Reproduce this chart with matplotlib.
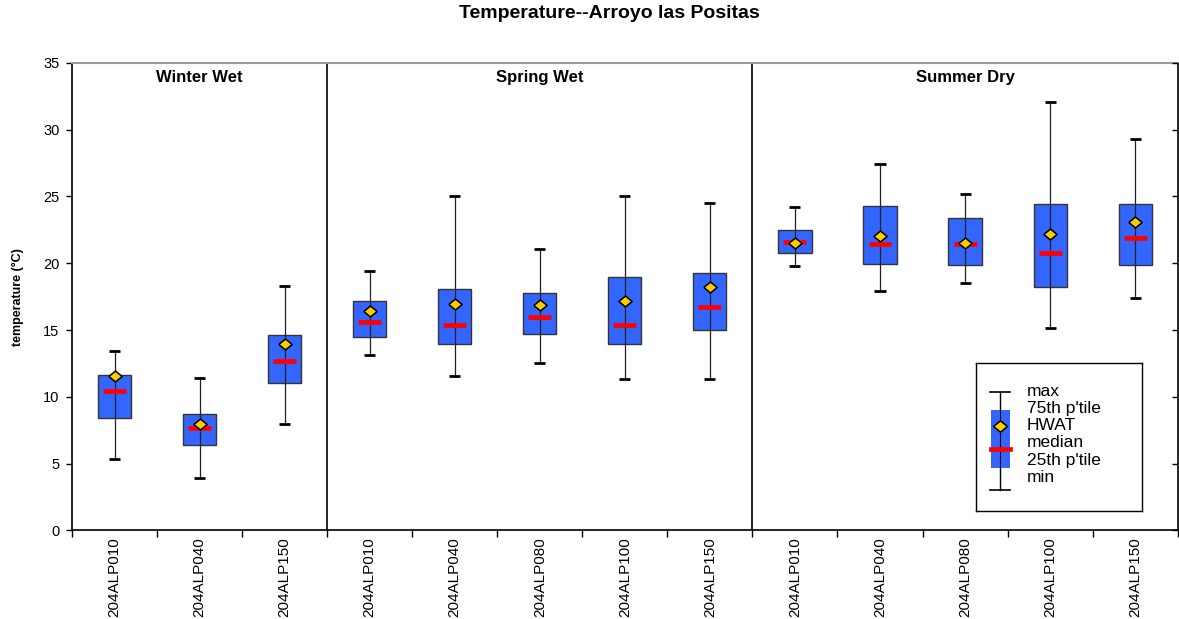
import matplotlib
matplotlib.use("Agg")
import matplotlib.pyplot as plt
import numpy as np

# Sampling sites, grouped by season
sites = ["204ALP010", "204ALP040", "204ALP150",
         "204ALP010", "204ALP040", "204ALP080", "204ALP100", "204ALP150",
         "204ALP010", "204ALP040", "204ALP080", "204ALP100", "204ALP150"]
seasons = ["Winter Wet", "Spring Wet", "Summer Dry"]
season_sizes = [3, 5, 5]

# Temperature statistics (°C) per site
t_max = [13.4, 11.4, 18.3, 19.4, 25.0, 21.1, 25.0, 24.5, 24.2, 27.4, 25.2, 32.1, 29.3]
t_q3 = [11.6, 8.7, 14.6, 17.2, 18.1, 17.75, 19.0, 19.25, 22.45, 24.25, 23.35, 24.4, 24.4]
t_hwat = [11.55, 8.0, 13.95, 16.4, 16.95, 16.9, 17.15, 18.25, 21.5, 22.0, 21.5, 22.2, 23.1]
t_median = [10.4, 7.65, 12.65, 15.6, 15.35, 15.95, 15.4, 16.7, 21.55, 21.45, 21.45, 20.8, 21.85]
t_q1 = [8.4, 6.4, 11.05, 14.5, 13.95, 14.7, 13.95, 15.0, 20.75, 19.95, 19.9, 18.25, 19.9]
t_min = [5.35, 3.9, 7.95, 13.15, 11.55, 12.5, 11.3, 11.3, 19.8, 17.9, 18.55, 15.15, 17.4]

yticks = [0, 5, 10, 15, 20, 25, 30, 35]

BOX_BLUE = "#3366FF"
HWAT_GOLD = "#FFCC00"
MED_RED = "#FF0000"
FONT = ["Liberation Sans", "DejaVu Sans"]
plt.rcParams["font.family"] = FONT

W, H = 1179, 619
fig = plt.figure(figsize=(W / 100, H / 100), dpi=100)
left, right, top, bottom = 72, 1177.7, 62.8, 530.4
ax = fig.add_axes([left / W, 1 - bottom / H, (right - left) / W, (bottom - top) / H])

x = np.arange(len(sites))
q1 = np.array(t_q1)
q3 = np.array(t_q3)

# diamond slightly wider than tall
diamond = [(-1, 0), (0, 0.82), (1, 0), (0, -0.82), (-1, 0)]

ax.bar(x, q3 - q1, bottom=q1, width=0.39, color=BOX_BLUE,
       edgecolor="#333333", linewidth=1.0, zorder=2)
ax.vlines(x, t_min, t_max, color="#222222", linewidth=0.9, zorder=3)
ax.hlines(t_max, x - 0.065, x + 0.065, color="black", linewidth=2.0, zorder=3)
ax.hlines(t_min, x - 0.065, x + 0.065, color="black", linewidth=2.0, zorder=3)
ax.hlines(t_median, x - 0.135, x + 0.135, color=MED_RED, linewidth=3.4, zorder=4)
ax.plot(x, t_hwat, linestyle="none", marker=diamond, markersize=9.6,
        markerfacecolor=HWAT_GOLD, markeredgecolor="black",
        markeredgewidth=1.1, zorder=5)

ax.set_xlim(-0.5, len(sites) - 0.5)
ax.set_ylim(0, 35)
ax.set_yticks(yticks)
ax.tick_params(axis="y", direction="out", length=4, width=1, labelsize=10.5,
               pad=5)

# season separators and headers
edges = np.cumsum([0] + season_sizes) - 0.5
for e in edges[1:-1]:
    ax.axvline(e, color="black", linewidth=1.2, zorder=1)
for name, a, b in zip(seasons, edges[:-1], edges[1:]):
    ax.text((a + b) / 2, 33.9, name, ha="center", va="center",
            fontsize=12, fontweight="bold")

# category boundaries as ticks, site names centred between them
ax.set_xticks(np.arange(-0.5, len(sites), 1.0))
ax.set_xticklabels([])
ax.tick_params(axis="x", which="major", direction="out", length=5, width=1)
ax.set_xticks(x, minor=True)
ax.set_xticklabels(sites, minor=True, rotation=90, fontsize=11)
ax.tick_params(axis="x", which="minor", length=0, pad=5)

for s in ["left", "bottom", "right"]:
    ax.spines[s].set_color("black")
    ax.spines[s].set_linewidth(1.2)
ax.spines["top"].set_color("#999999")
ax.spines["top"].set_linewidth(1.5)

# inward ticks along the right edge
axr = ax.twinx()
axr.set_ylim(ax.get_ylim())
axr.set_yticks(yticks)
axr.set_yticklabels([])
axr.tick_params(axis="y", direction="in", length=4.5, width=1)
for s in axr.spines.values():
    s.set_visible(False)

ax.set_ylabel("temperature (°C)", fontsize=9, fontweight="bold", labelpad=14)
fig.suptitle("Temperature--Arroyo las Positas", x=609 / W, y=1 - 14 / H,
             va="center", fontsize=14, fontweight="bold")

# key explaining the box glyph
lx0, ly0, lx1, ly1 = 976, 363, 1142, 511
lg = fig.add_axes([lx0 / W, 1 - ly1 / H, (lx1 - lx0) / W, (ly1 - ly0) / H])
lg.set_xlim(0, lx1 - lx0)
lg.set_ylim(ly1 - ly0, 0)
lg.set_xticks([])
lg.set_yticks([])
for s in lg.spines.values():
    s.set_color("black")
    s.set_linewidth(1.0)
gx = 24
lg.add_patch(plt.Rectangle((gx - 9.5, 47), 19, 58, facecolor=BOX_BLUE,
                           edgecolor="none", zorder=2))
lg.plot([gx, gx], [29, 127], color="black", linewidth=1.0, zorder=1)
lg.plot([gx, gx], [47, 105], color="black", linewidth=0.8, zorder=3)
lg.plot([gx - 10, gx + 10], [29, 29], color="black", linewidth=1.2, zorder=3)
lg.plot([gx - 10, gx + 10], [127, 127], color="black", linewidth=1.2, zorder=3)
lg.plot([gx - 9.5, gx + 9.5], [86, 86], color=MED_RED, linewidth=3.4, zorder=4)
lg.plot([gx], [63], linestyle="none", marker=diamond, markersize=10,
        markerfacecolor=HWAT_GOLD, markeredgecolor="black",
        markeredgewidth=1.1, zorder=5)
key_labels = ["max", "75th p'tile", "HWAT", "median", "25th p'tile", "min"]
key_y = [28.7, 46, 62, 79.7, 97, 114.7]
for lab, yy in zip(key_labels, key_y):
    lg.text(51, yy, lab, ha="left", va="center", fontsize=12.5)

fig.savefig("out.png", dpi=100)
